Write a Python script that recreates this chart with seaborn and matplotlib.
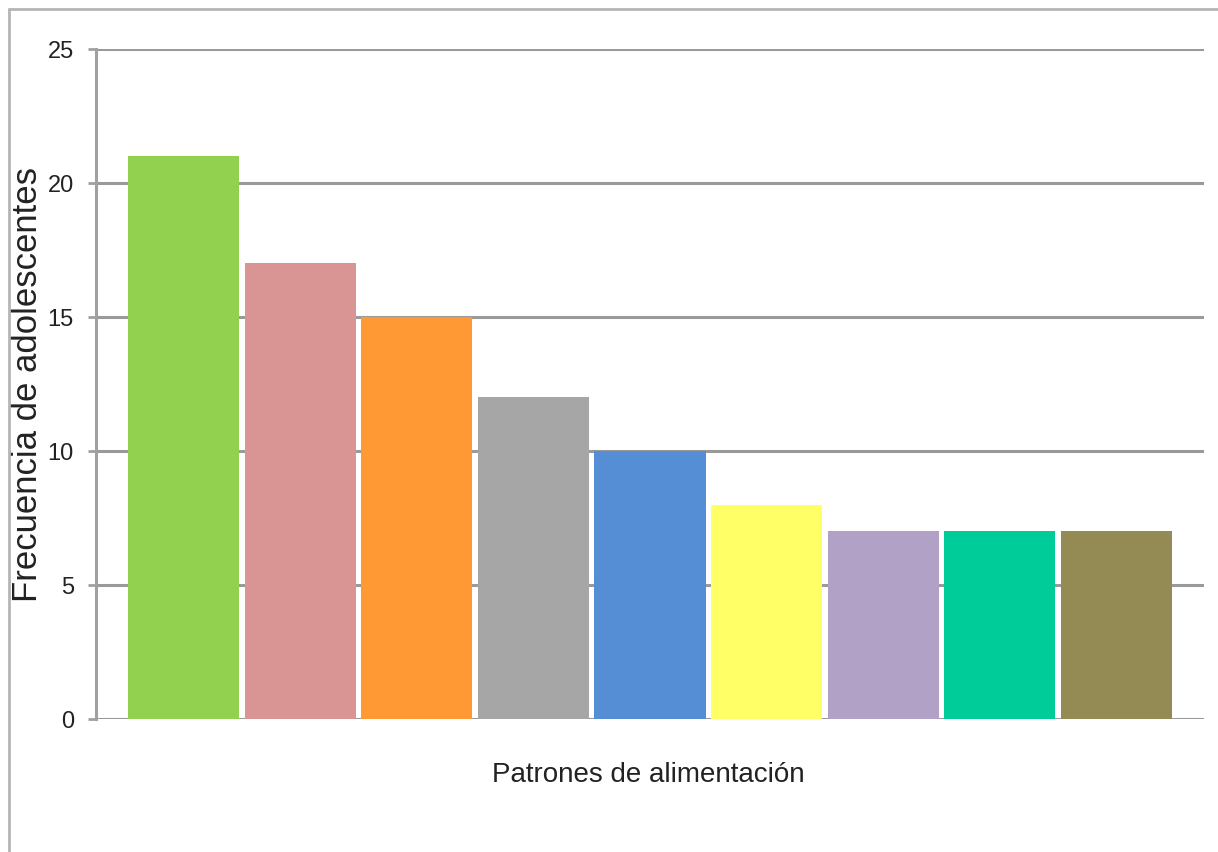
import matplotlib
matplotlib.use("Agg")
import matplotlib.pyplot as plt
from matplotlib.lines import Line2D
import seaborn as sns
import pandas as pd

# Eating-pattern groups and number of adolescents in each
categories = ["Patrón 1", "Patrón 2", "Patrón 3", "Patrón 4", "Patrón 5",
              "Patrón 6", "Patrón 7", "Patrón 8", "Patrón 9"]
frecuencia = [21, 17, 15, 12, 10, 8, 7, 7, 7]
colores = ["#92D050", "#D99594", "#FF9933", "#A6A6A6", "#558ED5",
           "#FFFF66", "#B2A1C7", "#00CC99", "#948A54"]
yticks = [0, 5, 10, 15, 20, 25]

df = pd.DataFrame({"patron": categories, "frecuencia": frecuencia})

sns.set_theme(style="white")
plt.rcParams["font.family"] = ["Liberation Sans", "DejaVu Sans"]

fig = plt.figure(figsize=(12.18, 8.53), dpi=100)
ax = fig.add_axes([96 / 1218, 133 / 853, 1108 / 1218, 670 / 853])

sns.barplot(data=df, x="patron", y="frecuencia", hue="patron",
            palette=colores, legend=False, width=0.953, saturation=1,
            edgecolor="none", linewidth=0, ax=ax, zorder=3)

ax.set_xlim(-0.75, 8.75)
ax.set_ylim(0, 25)
ax.set_yticks(yticks)
ax.set_yticklabels([str(t) for t in yticks], fontsize=17, color="#222222")
ax.set_xticks([])

ax.grid(axis="y", color="#9a9a9a", linewidth=2.2, zorder=0)
ax.grid(axis="x", visible=False)
for side in ["top", "right", "bottom"]:
    ax.spines[side].set_visible(False)
ax.spines["left"].set_color("#a0a0a0")
ax.spines["left"].set_linewidth(2.2)
ax.tick_params(axis="y", which="major", left=True, length=6, width=2,
               color="#a0a0a0", pad=10)

ax.set_xlabel("Patrones de alimentación", fontsize=20, color="#222222")
ax.xaxis.set_label_coords(552 / 1108, -42 / 670)
ax.set_ylabel("Frecuencia de adolescentes", fontsize=25, color="#222222")
ax.yaxis.set_label_coords(-52 / 1108, 0.5)

# outer chart border (left and top edges)
fig.add_artist(Line2D([9 / 1218, 9 / 1218], [0, 1 - 10 / 853],
                      transform=fig.transFigure, color="#b5b5b5", linewidth=2))
fig.add_artist(Line2D([9 / 1218, 1], [1 - 10 / 853, 1 - 10 / 853],
                      transform=fig.transFigure, color="#b5b5b5", linewidth=2))

fig.savefig("out.png", dpi=100, facecolor="white")
